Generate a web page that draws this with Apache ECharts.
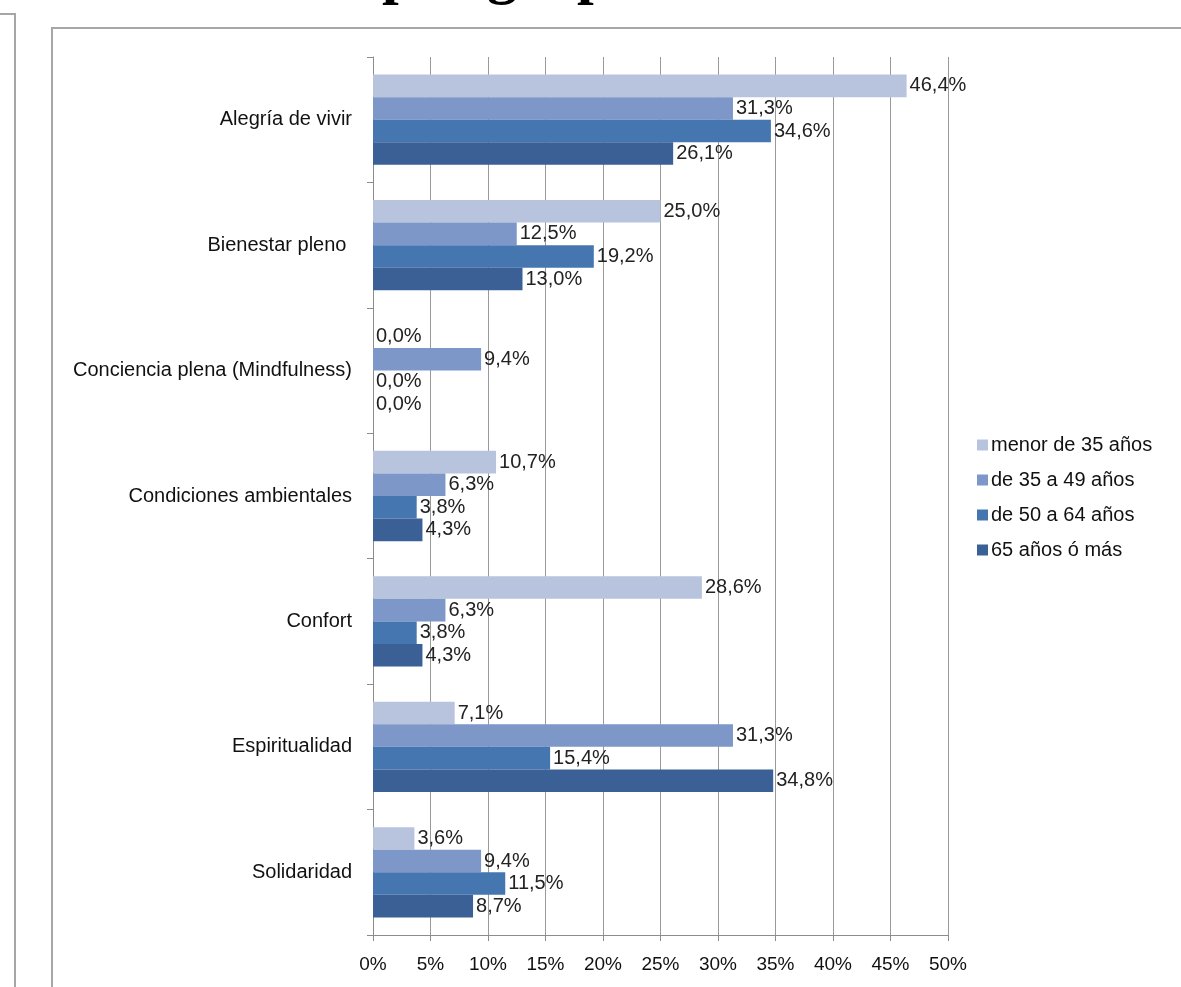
<!DOCTYPE html>
<html>
<head>
<meta charset="utf-8">
<script src="https://cdn.jsdelivr.net/npm/echarts@6/dist/echarts.min.js"></script>
<style>
  html, body { margin: 0; padding: 0; background: #ffffff; }
  #chart { width: 1181px; height: 987px; }
</style>
</head>
<body>
<div id="chart"></div>
<script>
// Dimensiones valoradas por grupo de edad (porcentaje de respuestas)
const categories = [
  'Alegría de vivir',
  'Bienestar pleno ',
  'Conciencia plena (Mindfulness)',
  'Condiciones ambientales',
  'Confort',
  'Espiritualidad',
  'Solidaridad'
];
const seriesNames = ['menor de 35 años', 'de 35 a 49 años', 'de 50 a 64 años', '65 años ó más'];
const menor35 = [46.4, 25.0, 0.0, 10.7, 28.6, 7.1, 3.6];
const de35a49 = [31.3, 12.5, 9.4, 6.3, 6.3, 31.3, 9.4];
const de50a64 = [34.6, 19.2, 0.0, 3.8, 3.8, 15.4, 11.5];
const mas65 = [26.1, 13.0, 0.0, 4.3, 4.3, 34.8, 8.7];
const xTicks = [0, 5, 10, 15, 20, 25, 30, 35, 40, 45, 50];

const seriesData = [menor35, de35a49, de50a64, mas65];
const colors = ['#b8c4de', '#7c97c8', '#4576b0', '#3b6096'];
const FONT = '"Liberation Sans", Arial, sans-serif';

const chart = echarts.init(document.getElementById('chart'), null, { renderer: 'canvas' });

chart.setOption({
  backgroundColor: '#ffffff',
  animation: false,
  color: colors,
  graphic: [
    // título (recortado en el borde superior)
    {
      type: 'text', left: 382, top: -54, silent: true,
      style: { text: 'por grupo de edad', font: 'bold 60px "Liberation Serif", "Times New Roman", serif', fill: '#000' }
    },
    // marco del panel izquierdo
    { type: 'polyline', silent: true, shape: { points: [[0, 14], [15, 14], [15, 990]] },
      style: { stroke: '#a6a6a6', lineWidth: 2, fill: null } },
    // marco del gráfico
    { type: 'polyline', silent: true, shape: { points: [[52, 990], [52, 28], [1190, 28]] },
      style: { stroke: '#a6a6a6', lineWidth: 2, fill: null } }
  ],
  legend: {
    orient: 'vertical',
    left: 972,
    top: 430,
    itemWidth: 11,
    itemHeight: 11,
    itemGap: 15,
    icon: 'rect',
    textStyle: { fontFamily: FONT, fontSize: 20, color: '#111', padding: [0, 0, 0, -2] },
    data: seriesNames
  },
  grid: { left: 373, right: 233, top: 57, bottom: 52, containLabel: false },
  xAxis: {
    type: 'value',
    min: 0,
    max: 50,
    interval: 5,
    axisLine: { show: true, lineStyle: { color: '#8c8c8c', width: 1 } },
    axisTick: { show: true, length: 6, lineStyle: { color: '#8c8c8c' } },
    splitLine: { show: true, lineStyle: { color: '#9a9a9a', width: 1 } },
    axisLabel: {
      fontFamily: FONT, fontSize: 19, color: '#111', margin: 20,
      formatter: v => xTicks.includes(v) ? v + '%' : ''
    }
  },
  yAxis: {
    type: 'category',
    inverse: true,
    data: categories,
    axisLine: { show: true, lineStyle: { color: '#8c8c8c', width: 1 } },
    axisTick: { show: true, length: 6, lineStyle: { color: '#8c8c8c' } },
    axisLabel: { fontFamily: FONT, fontSize: 20, color: '#111', margin: 21 },
    splitLine: { show: false }
  },
  series: seriesNames.map((name, i) => ({
    name: name,
    type: 'bar',
    data: seriesData[i],
    barGap: '0%',
    barCategoryGap: '28%',
    itemStyle: { color: colors[i] },
    label: {
      show: true,
      position: 'right',
      distance: 3,
      fontFamily: FONT,
      fontSize: 20,
      color: '#222',
      formatter: p => p.value.toFixed(1).replace('.', ',') + '%'
    }
  }))
});
</script>
</body>
</html>
